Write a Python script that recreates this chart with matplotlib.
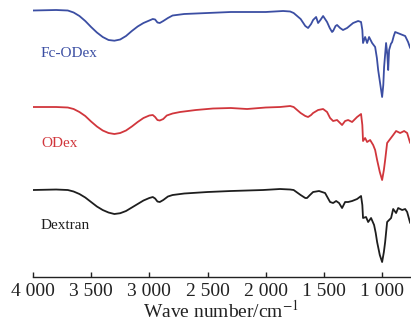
import matplotlib
matplotlib.use("Agg")
import matplotlib.pyplot as plt
from matplotlib.ticker import FixedLocator, FuncFormatter

plt.rcParams['font.family'] = ['Liberation Serif', 'DejaVu Serif']
plt.rcParams['mathtext.fontset'] = 'stix'

# FT-IR spectra, stacked transmittance (a.u.)
wn_fc = [4000, 3800, 3700, 3650, 3600, 3550, 3500, 3450, 3400, 3350, 3300, 3250,
         3200, 3150, 3100, 3050, 3000, 2970, 2950, 2930, 2910, 2880, 2840, 2800,
         2700, 2500, 2300, 2000, 1850, 1790, 1760, 1730, 1700, 1660, 1636, 1610,
         1593, 1567, 1550, 1530, 1507, 1490, 1473, 1450, 1430, 1421, 1400, 1387,
         1361, 1336, 1301, 1270, 1249, 1206, 1181, 1170, 1164, 1146, 1129, 1112,
         1086, 1060, 1045, 1034, 1015, 1000, 990, 983, 966, 955, 948, 940, 925,
         914, 900, 888, 845, 802, 777, 759]
t_fc = [269.5, 270, 269.5, 267.5, 264, 259, 253, 247.5, 243, 240, 239.3, 240.5,
        244, 249, 253.5, 257, 259.5, 261, 260.5, 257.5, 257, 259, 262, 264.5,
        266, 267, 268, 268, 269, 268.5, 267, 264, 261, 254, 252, 256,
        260, 263, 257, 260, 264, 261, 258, 252, 248, 249, 254, 255,
        252, 250, 252, 255, 257, 259, 258, 250, 237, 243, 237, 243,
        237, 233, 222, 210, 195, 183, 195, 213, 237, 225, 210, 230, 236,
        238, 244, 248, 246, 244, 238, 232]

wn_odex = [4000, 3800, 3700, 3650, 3600, 3550, 3500, 3450, 3400, 3350, 3300, 3250,
           3200, 3150, 3100, 3050, 3000, 2970, 2950, 2930, 2910, 2880, 2850, 2800,
           2736, 2600, 2453, 2300, 2160, 2000, 1877, 1790, 1760, 1730, 1700, 1660,
           1636, 1610, 1593, 1550, 1507, 1473, 1447, 1421, 1387, 1344, 1318, 1292,
           1258, 1215, 1181, 1170, 1164, 1146, 1129, 1103, 1077, 1060, 1043, 1020,
           1000, 985, 974, 957, 931, 905, 880, 845, 811, 785, 759]
t_odex = [173, 173, 172.5, 171, 168, 164, 158.5, 153.5, 149.5, 147, 146, 147,
          149.5, 153.5, 158, 162, 164.5, 165, 163, 160, 159.5, 161, 164.5, 166.5,
          168, 170, 171.5, 172, 171, 172.5, 173, 174, 173, 170, 167, 164,
          163, 165, 167, 170, 171, 168, 162, 159, 160, 155, 159, 160,
          158, 163, 166, 155, 139, 142, 138, 140, 135, 130, 120, 108,
          100, 110, 120, 137, 141, 145, 149, 147, 149, 147, 137]

wn_dex = [4000, 3800, 3700, 3650, 3600, 3550, 3500, 3450, 3400, 3350, 3300, 3250,
          3200, 3150, 3100, 3050, 3000, 2970, 2950, 2930, 2910, 2880, 2840, 2800,
          2700, 2500, 2300, 2023, 1877, 1790, 1760, 1730, 1700, 1660, 1645, 1620,
          1593, 1542, 1490, 1447, 1421, 1395, 1370, 1344, 1318, 1292, 1258, 1215,
          1181, 1170, 1164, 1138, 1120, 1095, 1069, 1055, 1043, 1020, 1000, 985,
          974, 957, 923, 905, 880, 862, 828, 802, 785, 759]
t_dex = [90, 90.5, 90, 88.5, 86, 82.5, 78, 73.5, 70, 67.5, 66, 66.8,
         69, 72.5, 76, 79.5, 82, 83, 81.5, 78.5, 78, 80, 83.5, 85,
         86.5, 88, 89, 90, 91, 90.5, 90, 87.5, 85, 82, 82, 85,
         88, 89, 87, 78, 77, 79, 77, 72, 78, 78, 79, 81,
         84, 75, 62, 63, 58, 62, 55, 47, 38, 25, 18, 28,
         38, 58, 62, 71, 67, 72, 70, 71, 68, 57]

names = ["Fc-ODex", "ODex", "Dextran"]
colors = ["#3b4ea3", "#d1363c", "#1e1e1e"]
label_y = [223, 133, 51]
ticks = [4000, 3500, 3000, 2500, 2000, 1500, 1000]

fig = plt.figure(figsize=(4.11, 3.29), dpi=100)
ax = fig.add_axes([0.080, 0.158, 0.918, 0.842])

for wn, t, c in zip([wn_fc, wn_odex, wn_dex], [t_fc, t_odex, t_dex], colors):
    ax.plot(wn, t, color=c, lw=1.3, solid_joinstyle='round', solid_capstyle='round')

for name, c, y in zip(names, colors, label_y):
    ax.text(3931, y, name, color=c, fontsize=11, va='baseline', ha='left')

ax.set_xlim(4000, 759)
ax.set_ylim(3, 280)
for s in ['top', 'right', 'left']:
    ax.spines[s].set_visible(False)
ax.spines['bottom'].set_linewidth(1.0)
ax.spines['bottom'].set_color('#222222')
ax.set_yticks([])
ax.xaxis.set_major_locator(FixedLocator(ticks))
ax.xaxis.set_major_formatter(FuncFormatter(lambda v, p: f"{int(v):,}".replace(",", " ")))
ax.tick_params(axis='x', direction='in', length=3.5, width=1.0, color='#222222',
               labelsize=14, pad=4, labelcolor='#222222')
ax.set_xlabel(r"Wave number/cm$^{-1}$", fontsize=14, labelpad=0, color='#222222')

fig.savefig("out.png", dpi=100)
